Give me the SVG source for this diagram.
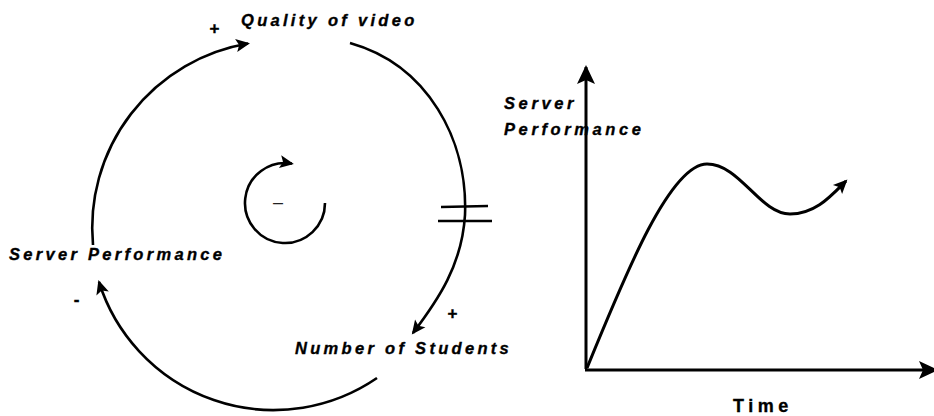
<svg xmlns="http://www.w3.org/2000/svg" width="934" height="416" viewBox="0 0 934 416">
<style>
.lbl{font-family:"Liberation Sans",Arial,sans-serif;font-weight:bold;font-style:italic;font-size:16.5px;letter-spacing:3.3px;fill:#000;stroke:#000;stroke-width:0.35}
.sign{font-family:"Liberation Sans",Arial,sans-serif;font-weight:bold;font-size:17px;fill:#000;stroke:#000;stroke-width:0.4;text-anchor:middle}
.time{font-family:"Liberation Sans",Arial,sans-serif;font-weight:bold;font-size:18px;letter-spacing:4.5px;fill:#000;stroke:#000;stroke-width:0.35}
.loopsign{font-family:"Liberation Sans",Arial,sans-serif;font-size:18px;fill:#222;text-anchor:middle}
.line{fill:none;stroke:#000;stroke-width:2.6}
.axis{fill:none;stroke:#000;stroke-width:3}
</style>
<defs>
<marker id="ah" viewBox="-14 -7 17 14" refX="0" refY="0" markerWidth="17" markerHeight="14" markerUnits="userSpaceOnUse" orient="auto"><path d="M2,0 L-12,-6.5 L-9,0 L-12,6.5 Z" fill="#000"/></marker>
<marker id="ahBig" viewBox="-20 -10 23 20" refX="0" refY="0" markerWidth="23" markerHeight="20" markerUnits="userSpaceOnUse" orient="auto"><path d="M2,0 L-17,-9 L-13,0 L-17,9 Z" fill="#000"/></marker>
</defs>
<g id="connectors">
<path class="line" d="M93,245 A187,187 0 0 1 248,43.5" marker-end="url(#ah)"/>
<path class="line" d="M350,43 C428,65 468,140 465,215 C462,265 438,300 413,333" marker-end="url(#ah)"/>
<path class="line" d="M377,378 A183,183 0 0 1 99,282" marker-end="url(#ah)"/>
<path class="line" d="M325,203 A40,40 0 1 1 291.9,163.6" marker-end="url(#ah)"/>
<g id="delay">
<line class="line" stroke-width="2" x1="441" y1="207" x2="488" y2="206"/>
<line class="line" stroke-width="2" x1="438" y1="221" x2="492" y2="221"/>
</g>
</g>
<g id="node-quality"><text class="lbl" x="241" y="26">Quality of video</text></g>
<g id="sign-quality"><text class="sign" x="214.5" y="33.5">+</text></g>
<g id="node-server"><text class="lbl" x="9" y="260">Server Performance</text></g>
<g id="sign-server"><text class="sign" x="76.5" y="304.5">-</text></g>
<g id="node-students"><text class="lbl" x="295" y="354">Number of Students</text></g>
<g id="sign-students"><text class="sign" x="452.5" y="318.5">+</text></g>
<g id="loop"><text class="loopsign" x="278" y="208">–</text></g>
<g id="graph">
<path class="axis" d="M586,369 L586,67" marker-end="url(#ahBig)"/>
<path class="axis" d="M585,370 L936,370" marker-end="url(#ahBig)"/>
<path class="axis" d="M587,368 C625,275 670,164 707,164 C740,164 760,214 790,214 C815,214 830,197 846,181" marker-end="url(#ah)"/>
<text class="lbl" x="504" y="109" style="letter-spacing:3.6px">Server</text>
<text class="lbl" x="504" y="135" style="letter-spacing:3.6px">Performance</text>
<text class="time" x="733" y="412">Time</text>
</g>
</svg>
